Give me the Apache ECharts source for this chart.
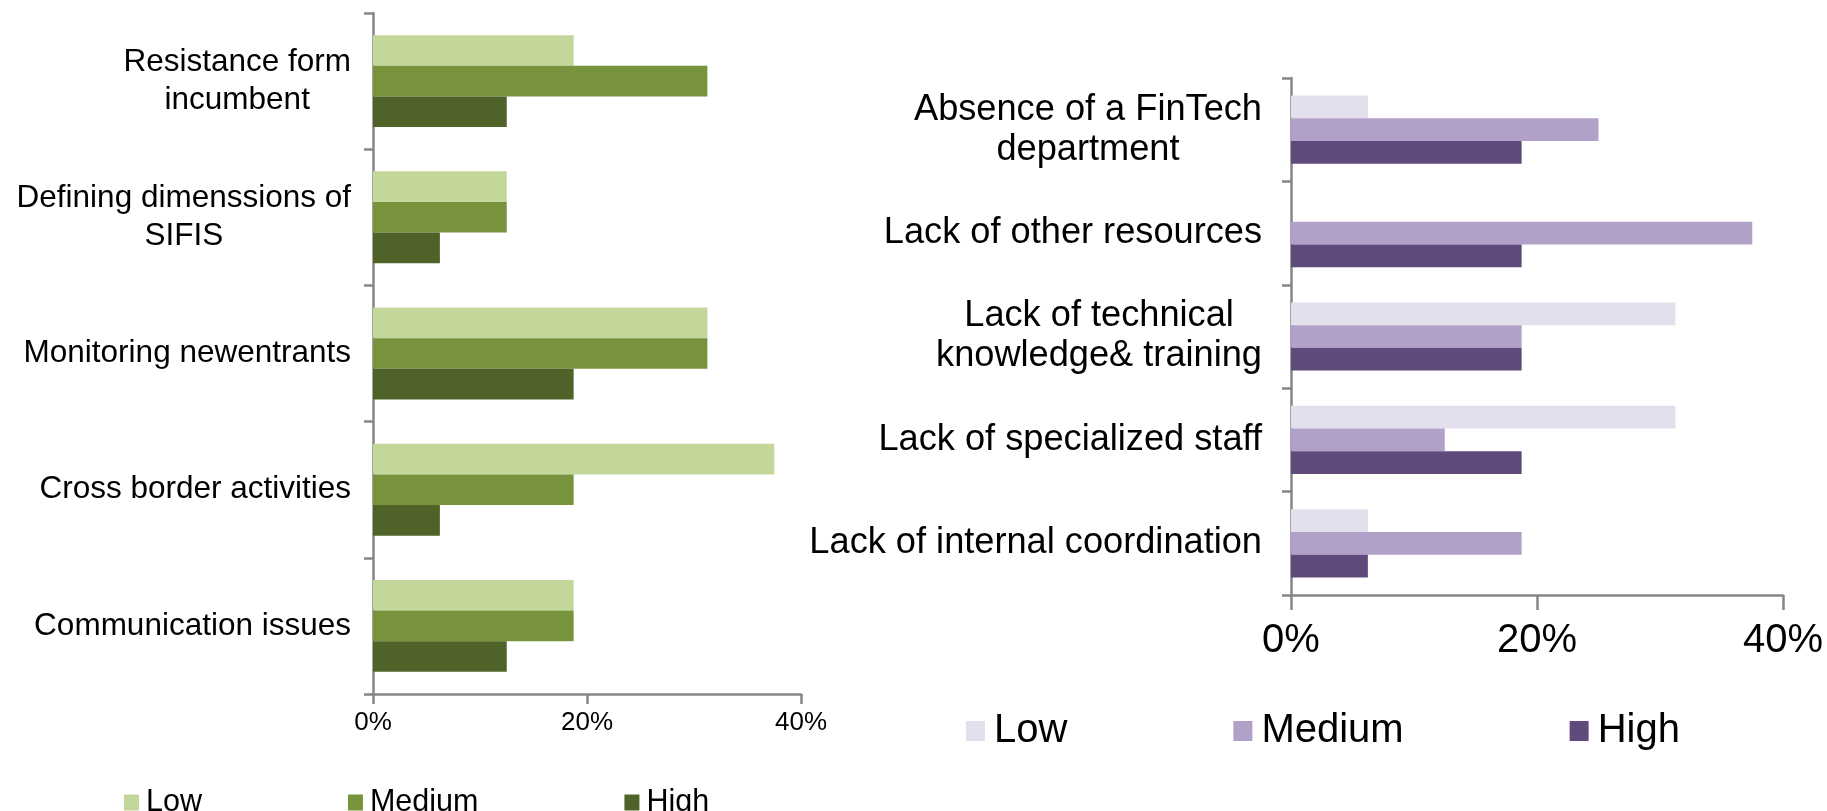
<!DOCTYPE html>
<html>
<head>
<meta charset="utf-8">
<script src="https://cdn.jsdelivr.net/npm/echarts@6/dist/echarts.min.js"></script>
<style>
  html, body { margin: 0; padding: 0; background: #ffffff; }
  #wrap { position: relative; width: 1827px; height: 811px; overflow: hidden; }
  .layer { position: absolute; left: 0; top: 0; width: 1827px; height: 811px; }
</style>
</head>
<body>
<div id="wrap">
  <div id="left" class="layer"></div>
  <div id="right" class="layer"></div>
</div>
<script>
// ---------- data ----------
const seriesNames = ['Low', 'Medium', 'High'];

const leftCategories = [
  'Resistance form\nincumbent',
  'Defining dimenssions of\nSIFIS',
  'Monitoring newentrants',
  'Cross border activities',
  'Communication issues'
];
const leftLow    = [18.75, 12.5, 31.25, 37.5, 18.75];
const leftMedium = [31.25, 12.5, 31.25, 18.75, 18.75];
const leftHigh   = [12.5, 6.25, 18.75, 6.25, 12.5];
const leftColors = ['#C4D79B', '#77933C', '#4F6228'];

const rightCategories = [
  'Absence of a FinTech\ndepartment',
  'Lack of other resources',
  'Lack of technical\nknowledge& training',
  'Lack of specialized staff',
  'Lack of internal coordination'
];
const rightLow    = [6.25, 0, 31.25, 31.25, 6.25];
const rightMedium = [25, 37.5, 18.75, 12.5, 18.75];
const rightHigh   = [18.75, 18.75, 18.75, 18.75, 6.25];
const rightColors = ['#E4DFEC', '#B1A0C7', '#604A7B'];

const xTickValues = [0, 20, 40];   // tick labels shown as 0%, 20%, 40%

// ---------- helpers ----------
const FONT = '"Liberation Sans", Arial, sans-serif';
const measureCtx = document.createElement('canvas').getContext('2d');
function textWidth(t, size) {
  measureCtx.font = size + 'px ' + FONT;
  return measureCtx.measureText(t).width;
}
function centeredLabels(cats, size, lineHeight) {
  const rich = {};
  cats.forEach((c, i) => {
    const w = Math.max(...c.split('\n').map(l => textWidth(l, size))) + 2;
    rich['c' + i] = { width: w, align: 'center', fontSize: size, lineHeight: lineHeight,
                      fontFamily: FONT, color: '#000000' };
  });
  const formatter = function (value, idx) {
    const i = cats.indexOf(value);
    return value.split('\n').map(l => '{c' + i + '|' + l + '}').join('\n');
  };
  return { rich, formatter };
}

function buildOption(cfg) {
  const lab = centeredLabels(cfg.categories, cfg.catFont, cfg.catLine);
  const axisLine = { show: true, lineStyle: { color: '#868686', width: 2.5 } };
  return {
    animation: false,
    backgroundColor: cfg.bg,
    textStyle: { fontFamily: FONT },
    grid: { left: cfg.grid.left, top: cfg.grid.top, width: cfg.grid.width, height: cfg.grid.height, containLabel: false },
    legend: {
      data: seriesNames,
      left: cfg.legend.left, top: cfg.legend.top,
      itemWidth: cfg.legend.iw, itemHeight: cfg.legend.ih, itemGap: cfg.legend.gap,
      icon: 'rect',
      textStyle: { fontSize: cfg.legend.font, color: '#000000', fontFamily: FONT, padding: [0, 0, 0, cfg.legend.pad] }
    },
    xAxis: {
      type: 'value', min: 0, max: 40, interval: 20,
      splitLine: { show: false },
      axisLine: axisLine,
      axisTick: { show: true, length: cfg.xTickLen, lineStyle: { color: '#868686', width: 2.5 } },
      axisLabel: {
        formatter: v => (xTickValues.indexOf(v) >= 0 ? v + '%' : ''),
        fontSize: cfg.xFont, color: '#000000', margin: cfg.xMargin, fontFamily: FONT
      }
    },
    yAxis: {
      type: 'category', inverse: true, data: cfg.categories,
      axisLine: axisLine,
      axisTick: { show: true, length: 9, lineStyle: { color: '#868686', width: 2.5 } },
      axisLabel: { margin: cfg.yMargin, formatter: lab.formatter, rich: lab.rich, align: 'right' }
    },
    series: seriesNames.map((n, k) => ({
      name: n, type: 'bar', data: cfg.values[k],
      itemStyle: { color: cfg.colors[k] },
      barGap: '0%', barCategoryGap: cfg.catGap
    }))
  };
}

const leftChart = echarts.init(document.getElementById('left'));
leftChart.setOption(buildOption({
  bg: '#ffffff',
  categories: leftCategories,
  values: [leftLow, leftMedium, leftHigh],
  colors: leftColors,
  catFont: 31.5, catLine: 38,
  grid: { left: 373, top: 13, width: 428, height: 681 },
  legend: { left: 119, top: 782, iw: 15, ih: 16, gap: 146, font: 30.5, pad: 2 },
  xTickLen: 10, xFont: 26, xMargin: 16, yMargin: 21,
  catGap: '32.5%'
}));

const rightChart = echarts.init(document.getElementById('right'));
rightChart.setOption(buildOption({
  bg: 'transparent',
  categories: rightCategories,
  values: [rightLow, rightMedium, rightHigh],
  colors: rightColors,
  catFont: 36.2, catLine: 40,
  grid: { left: 1291, top: 78, width: 492, height: 517 },
  legend: { left: 961, top: 706, iw: 19, ih: 20, gap: 166, font: 40, pad: 4 },
  xTickLen: 15, xFont: 40, xMargin: 26, yMargin: 28,
  catGap: '34%'
}));
</script>
</body>
</html>
